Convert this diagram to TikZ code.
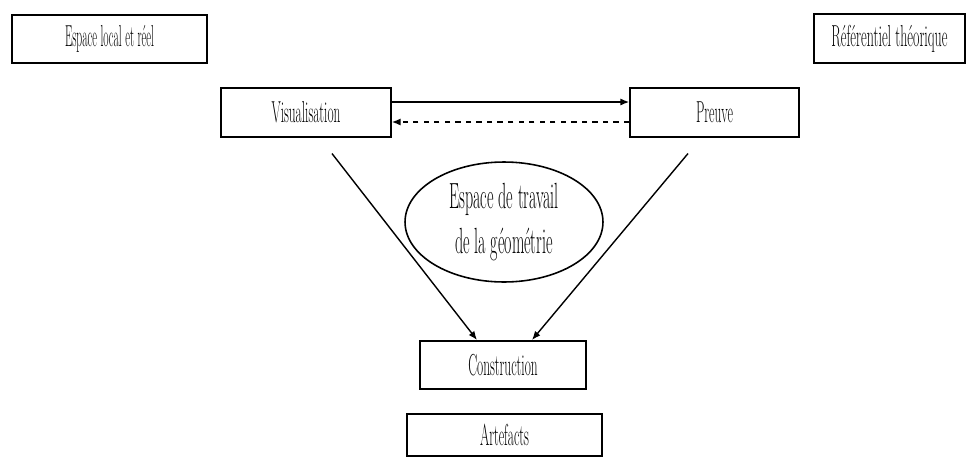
\documentclass[tikz,border=0pt]{standalone}
\usepackage{graphicx}
\usetikzlibrary{shapes.geometric,arrows.meta}

\newcommand{\etroit}[2][0.44]{\scalebox{#1}[1]{#2}}

\tikzset{
  cadre/.style={draw, line width=0.9pt, minimum height=0.97cm, inner sep=0pt, font=\LARGE},
  bulle/.style={draw, ellipse, line width=0.9pt, minimum width=3.96cm, minimum height=2.4cm, inner sep=0pt, font=\huge, align=center},
  fleche/.style={-{Latex[length=5pt,width=4pt]}, line width=0.8pt},
}

\begin{document}
\begin{tikzpicture}[x=0.02cm, y=-0.02cm]
                \useasboundingbox (0,0) rectangle (967,457);

                \node[cadre, minimum width=3.9cm] (local) at (109.5,39) {\etroit[0.38]{Espace local et réel}};
                \node[cadre, minimum width=3.02cm] (referentiel) at (889.5,38.5) {\etroit[0.46]{Référentiel théorique}};

                \node[cadre, minimum width=3.4cm] (visu) at (306,112.5) {\etroit{Visualisation}};
                \node[cadre, minimum width=3.38cm] (preuve) at (714.5,112.5) {\etroit{Preuve}};

                \node[bulle] (etg) at (504,222) {\etroit{Espace de travail}\\[1pt] \etroit{de la géométrie}};

                \node[cadre, minimum width=3.32cm] (constr) at (503,365) {\etroit{Construction}};
                \node[cadre, minimum width=3.9cm, minimum height=0.84cm] (artef) at (504.5,435) {\etroit{Artefacts}};

                \draw[fleche] ([yshift=0.21cm]visu.east) -- ([yshift=0.21cm]preuve.west);
                \draw[fleche, dashed] ([yshift=-0.19cm]preuve.west) -- ([yshift=-0.19cm]visu.east);

                \coordinate (vbas) at ([xshift=0.52cm,yshift=-0.32cm]visu.south);
                \coordinate (pbas) at ([xshift=-0.53cm,yshift=-0.32cm]preuve.south);
                \draw[fleche] (vbas) -- ([xshift=-0.52cm]constr.north);
                \draw[fleche] (pbas) -- ([xshift=0.58cm]constr.north);
            \end{tikzpicture}
\end{document}
